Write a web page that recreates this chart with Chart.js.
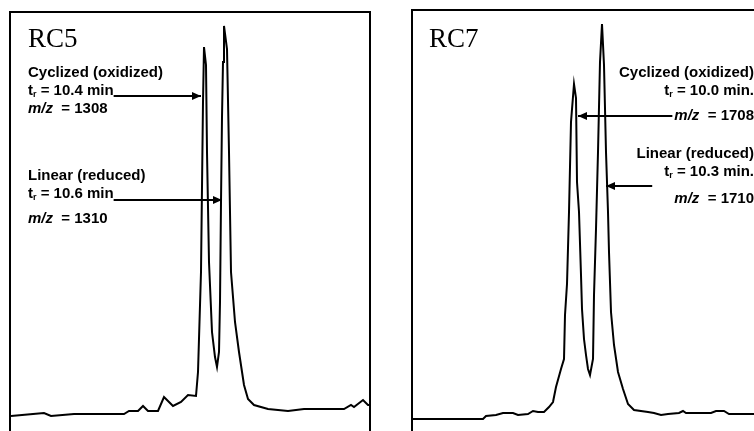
<!DOCTYPE html>
<html>
<head>
<meta charset="utf-8">
<script src="https://cdn.jsdelivr.net/npm/chart.js@4/dist/chart.umd.min.js"></script>
<style>
  html, body { margin: 0; padding: 0; background: #fff; overflow: hidden; width: 754px; height: 431px; }
  .panel { position: absolute; border: 2px solid #000; background: #fff; }
  #p5 { left: 9px; top: 11px; width: 358px; height: 426px; }
  #p7 { left: 411px; top: 9px; width: 345px; height: 428px; }
  canvas { display: block; }
</style>
</head>
<body>
<div class="panel" id="p5"><canvas id="rc5" width="358" height="426"></canvas></div>
<div class="panel" id="p7"><canvas id="rc7" width="345" height="428"></canvas></div>
<script>
// RC5 trace: scan position vs. signal
const rc5Scan = [0, 22, 33, 40, 63, 77, 113, 118, 127, 132, 137, 147, 153, 162, 170, 177, 185, 187, 190, 192,
  193, 195, 196, 198, 201, 204, 206, 208, 209, 210, 211, 212, 213, 216, 218, 220, 224, 228, 233, 237,
  243, 257, 277, 293, 333, 340, 343, 352, 357, 361];
const rc5Signal = [23, 25, 26, 23, 25, 25, 25, 28, 28, 33, 28, 28, 42, 33, 37, 44, 43, 67, 167, 337,
  392, 374, 287, 177, 107, 82, 72, 87, 137, 237, 322, 377, 413, 390, 287, 167, 117, 87, 54, 40,
  34, 30, 28, 30, 30, 34, 32, 39, 34, 34];

// RC7 trace
const rc7Scan = [0, 70, 73, 83, 90, 100, 105, 115, 120, 125, 131, 136, 140, 143, 148, 151, 152, 154, 156, 158,
  161, 163, 164, 166, 168, 169, 171, 173, 175, 177, 180, 181, 183, 185, 187, 189, 191, 193, 195, 196,
  198, 201, 205, 210, 215, 221, 235, 241, 248, 255, 266, 270, 273, 298, 303, 311, 316, 348];
const rc7Signal = [20, 20, 23, 24, 26, 26, 24, 25, 28, 27, 27, 32, 37, 52, 70, 80, 124, 155, 227, 317,
  355, 341, 257, 227, 164, 130, 100, 84, 70, 64, 80, 144, 210, 287, 377, 415, 374, 287, 227, 187,
  127, 94, 67, 50, 35, 29, 27, 26, 24, 25, 26, 28, 26, 26, 28, 28, 25, 25];

const rc5Labels = {
  title: 'RC5',
  groups: [
    { name: 'Cyclized (oxidized)', tr: '10.4 min', mz: '1308' },
    { name: 'Linear (reduced)', tr: '10.6 min', mz: '1310' }
  ]
};
const rc7Labels = {
  title: 'RC7',
  groups: [
    { name: 'Cyclized (oxidized)', tr: '10.0 min.', mz: '1708' },
    { name: 'Linear (reduced)', tr: '10.3 min.', mz: '1710' }
  ]
};

// arrow tips in data units
const rc5Arrows = [{ x: 190, y: 343 }, { x: 211, y: 239 }];
const rc7Arrows = [{ x: 165, y: 323 }, { x: 193, y: 253 }];

const BOLD = 'bold 15px "Liberation Sans", Arial, sans-serif';
const ITAL = 'italic bold 15px "Liberation Sans", Arial, sans-serif';
const SUB = 'bold 9px "Liberation Sans", Arial, sans-serif';
const TITLE = '27px "Liberation Serif", "Times New Roman", serif';

// draw a run of text pieces, returns width
function runWidth(ctx, parts) {
  let w = 0;
  parts.forEach(p => { ctx.font = p.f; w += ctx.measureText(p.t).width; });
  return w;
}
function drawRun(ctx, parts, x, y, align) {
  let cx = align === 'right' ? x - runWidth(ctx, parts) : x;
  parts.forEach(p => {
    ctx.font = p.f;
    ctx.fillText(p.t, cx, y + (p.dy || 0));
    cx += ctx.measureText(p.t).width;
  });
}
function trParts(v) {
  return [{ t: 't', f: BOLD }, { t: 'r', f: SUB, dy: 2 }, { t: ' = ' + v, f: BOLD }];
}
function mzParts(v) {
  return [{ t: 'm/z', f: ITAL }, { t: '  = ' + v, f: BOLD }];
}
function arrow(ctx, x1, y, x2) {
  ctx.beginPath();
  ctx.moveTo(x1, y);
  ctx.lineTo(x2, y);
  ctx.lineWidth = 2;
  ctx.stroke();
  const d = x2 > x1 ? -1 : 1;
  ctx.beginPath();
  ctx.moveTo(x2, y);
  ctx.lineTo(x2 + d * 9, y - 4);
  ctx.lineTo(x2 + d * 9, y + 4);
  ctx.closePath();
  ctx.fill();
}

const notes5 = {
  id: 'notes5',
  afterDraw(chart) {
    const ctx = chart.ctx, xs = chart.scales.x, ys = chart.scales.y;
    ctx.save();
    ctx.fillStyle = '#000';
    ctx.strokeStyle = '#000';
    ctx.textBaseline = 'alphabetic';
    ctx.font = TITLE;
    ctx.fillText(rc5Labels.title, 17, 34);
    const tops = [64, 167];
    rc5Labels.groups.forEach((g, i) => {
      const y0 = tops[i];
      ctx.font = BOLD;
      ctx.fillText(g.name, 17, y0);
      const tp = trParts(g.tr);
      drawRun(ctx, tp, 17, y0 + 18, 'left');
      const w = runWidth(ctx, tp);
      drawRun(ctx, mzParts(g.mz), 17, y0 + (i === 0 ? 36 : 43), 'left');
      const a = rc5Arrows[i];
      arrow(ctx, 17 + w, ys.getPixelForValue(a.y), xs.getPixelForValue(a.x));
    });
    ctx.restore();
  }
};

const notes7 = {
  id: 'notes7',
  afterDraw(chart) {
    const ctx = chart.ctx, xs = chart.scales.x, ys = chart.scales.y;
    ctx.save();
    ctx.fillStyle = '#000';
    ctx.strokeStyle = '#000';
    ctx.textBaseline = 'alphabetic';
    ctx.font = TITLE;
    ctx.fillText(rc7Labels.title, 16, 36);
    const right = 341;
    const tops = [66, 147];
    rc7Labels.groups.forEach((g, i) => {
      const y0 = tops[i];
      ctx.font = BOLD;
      ctx.textAlign = 'right';
      ctx.fillText(g.name, right, y0);
      ctx.textAlign = 'left';
      drawRun(ctx, trParts(g.tr), right, y0 + 18, 'right');
      const mp = mzParts(g.mz);
      drawRun(ctx, mp, right, y0 + (i === 0 ? 43 : 45), 'right');
      const a = rc7Arrows[i];
      const start = i === 0 ? right - runWidth(ctx, mp) - 2 : right - runWidth(ctx, trParts(g.tr)) - 12;
      arrow(ctx, start, ys.getPixelForValue(a.y), xs.getPixelForValue(a.x));
    });
    ctx.restore();
  }
};

function makeChart(id, scan, signal, xMax, yMax, plugin) {
  return new Chart(document.getElementById(id), {
    type: 'line',
    data: {
      datasets: [{
        data: scan.map((s, i) => ({ x: s, y: signal[i] })),
        borderColor: '#000',
        borderWidth: 2,
        pointRadius: 0,
        tension: 0,
        fill: false
      }]
    },
    options: {
      responsive: false,
      animation: false,
      layout: { padding: 0 },
      plugins: { legend: { display: false }, tooltip: { enabled: false } },
      scales: {
        x: { type: 'linear', display: false, min: 0, max: xMax },
        y: { display: false, min: 0, max: yMax }
      }
    },
    plugins: [plugin]
  });
}

makeChart('rc5', rc5Scan, rc5Signal, 358, 426, notes5);
makeChart('rc7', rc7Scan, rc7Signal, 345, 428, notes7);
</script>
</body>
</html>
